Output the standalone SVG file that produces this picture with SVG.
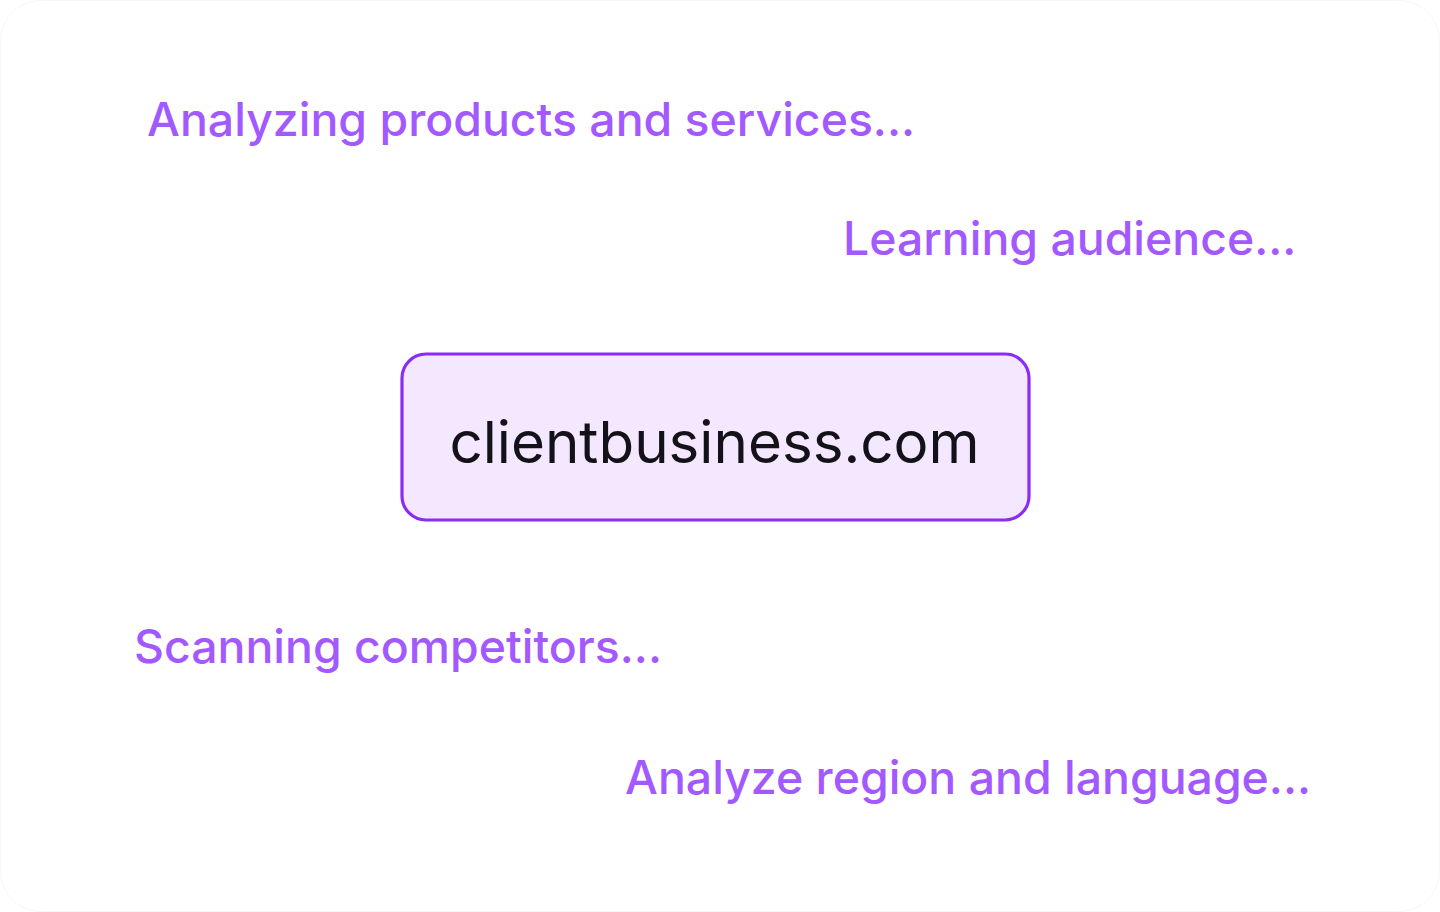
<svg xmlns="http://www.w3.org/2000/svg" width="1440" height="912" viewBox="0 0 1440 912">
<style>
.lbl{font-family:Inter,"Noto Sans",sans-serif;font-size:46.4px;font-weight:500;fill:#a259ff}
.main{font-family:Inter,"Noto Sans",sans-serif;font-size:58.3px;font-weight:400;fill:#141218}
</style>
<rect x="0.5" y="0.5" width="1439" height="911" rx="40" fill="#ffffff" stroke="#f7f4fc" stroke-width="1"/>
<g id="connectors"/>
<g id="node-domain">
<rect x="402" y="354" width="627" height="166" rx="24" fill="#f3e8ff" stroke="#8b2cf5" stroke-width="3.2"/>
<text class="main" x="714.5" y="463" text-anchor="middle">clientbusiness.com</text>
</g>
<g id="label-products"><text class="lbl" x="147" y="136">Analyzing products and services...</text></g>
<g id="label-audience"><text class="lbl" x="843" y="255">Learning audience...</text></g>
<g id="label-competitors"><text class="lbl" x="134" y="663">Scanning competitors...</text></g>
<g id="label-region"><text class="lbl" x="625" y="794">Analyze region and language...</text></g>
</svg>
